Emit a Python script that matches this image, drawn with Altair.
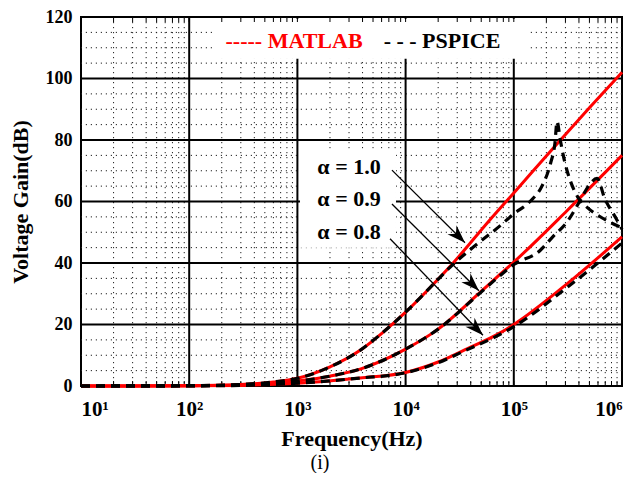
import altair as alt
import pandas as pd

# ---------------- data ----------------
# MATLAB (red solid) curves: frequency (Hz) and voltage gain (dB)
matlab_a10_f = [10, 100, 300, 600, 1000, 2000, 3800, 6200, 10000, 15800, 27500, 60000, 100000, 240000, 500000, 1000000]
matlab_a10_g = [0, 0.1, 0.5, 1.3, 2.5, 6.2, 11.6, 17.5, 24, 31, 40, 54, 62.8, 78, 90.5, 102]
matlab_a09_f = [10, 100, 300, 600, 1000, 2000, 3800, 10000, 20000, 49000, 74000, 100000, 310000, 1000000]
matlab_a09_g = [0, 0.1, 0.3, 0.9, 1.6, 3.2, 5.5, 12, 18.5, 30.5, 36.2, 40.3, 57, 75]
matlab_a08_f = [10, 100, 300, 1000, 3800, 10000, 20000, 35500, 74000, 100000, 310000, 1000000]
matlab_a08_g = [0, 0.05, 0.2, 0.9, 2.6, 4.4, 7.8, 11.8, 17.2, 20, 33.2, 48.5]

# PSPICE (black dashed) curves
pspice_a10_f = [10, 100, 300, 600, 1000, 2000, 3800, 6200, 10000, 15800, 25700, 40000, 74000, 100000,
                141000, 182000, 219000, 240000, 251000, 269000, 295000, 331000, 389000, 479000, 600000, 800000, 1000000]
pspice_a10_g = [0, 0.1, 0.5, 1.3, 2.5, 6.2, 11.6, 17.5, 24, 31, 38.6, 44.5, 52, 56,
                60, 65, 72.5, 79, 86, 80, 73, 67, 61.5, 58, 55.5, 53, 51.5]
pspice_a09_f = [10, 100, 300, 600, 1000, 2000, 3800, 10000, 20000, 49000, 74000, 100000,
                174000, 229000, 316000, 398000, 490000, 589000, 692000, 871000, 1000000]
pspice_a09_g = [0, 0.1, 0.3, 0.9, 1.6, 3.2, 5.5, 12, 18.5, 30.3, 35.8, 39.5,
                44, 48.5, 53.7, 59.5, 65, 67.5, 61, 54.8, 51]
pspice_a08_f = [10, 100, 300, 1000, 3800, 10000, 20000, 35500, 74000, 100000, 310000, 1000000]
pspice_a08_g = [0, 0.05, 0.2, 0.9, 2.6, 4.3, 7.6, 11.5, 16.7, 19.3, 32, 46.5]

# grid / tick values
decades = [10, 100, 1000, 10000, 100000, 1000000]
major_x = [100, 1000, 10000, 100000]
minor_x = [k * 10 ** d for d in range(1, 6) for k in range(2, 10)]
y_ticks = [0, 20, 40, 60, 80, 100, 120]
major_y = [20, 40, 60, 80, 100]
minor_y = [5, 10, 15, 25, 30, 35, 45, 50, 55, 65, 70, 75, 85, 90, 95, 105, 110, 115]

# annotations (data coordinates)
alpha_labels = ["α = 1.0", "α = 0.9", "α = 0.8"]
alpha_label_f = [3000, 3000, 3000]
alpha_label_g = [71.2, 60.8, 50.1]
arrow_f0 = [7480, 7480, 7180]
arrow_g0 = [70.2, 59.2, 47.9]
arrow_f1 = [35400, 47600, 51900]
arrow_g1 = [46.6, 31.0, 16.5]

legend_texts = ["----- MATLAB", "- - - PSPICE"]
legend_colors = ["#ff0000", "#000000"]
legend_f = [931, 21700]
legend_g = [112.2, 112.2]

box_f0 = [163, 1057]
box_f1 = [141000, 8150]
box_g0 = [106.4, 45.0]
box_g1 = [119.4, 76.3]

# ---------------- build chart ----------------
W, H = 541, 369
FONT = "Liberation Serif"
xs = alt.Scale(type="log", domain=[10, 1000000], nice=False)
ys = alt.Scale(domain=[0, 120], nice=False)

AX = alt.Axis(
    values=decades,
    labelExpr="'10' + ['⁰','¹','²','³','⁴','⁵','⁶'][round(log(datum.value)/LN10)]",
    title="Frequency(Hz)", orient="bottom",
    labelFontSize=21, labelPadding=12, titleFontSize=22, titlePadding=9,
)
AY = alt.Axis(
    values=y_ticks, title="Voltage Gain(dB)", orient="left",
    labelFontSize=18, labelPadding=9, titleFontSize=22, titlePadding=13,
)


def X(field):
    return alt.X(field, type="quantitative", scale=xs, axis=AX)


def Y(field):
    return alt.Y(field, type="quantitative", scale=ys, axis=AY)


def curves(pairs):
    rows = []
    for name, fs, gs in pairs:
        for f, g in zip(fs, gs):
            rows.append({"s": name, "f": f, "g": g})
    return pd.DataFrame(rows)


matlab_df = curves([("a10", matlab_a10_f, matlab_a10_g),
                    ("a09", matlab_a09_f, matlab_a09_g),
                    ("a08", matlab_a08_f, matlab_a08_g)])
pspice_df = curves([("a10", pspice_a10_f, pspice_a10_g),
                    ("a09", pspice_a09_f, pspice_a09_g),
                    ("a08", pspice_a08_f, pspice_a08_g)])

minor_v = alt.Chart(pd.DataFrame({"f": minor_x})).mark_rule(
    color="#222", strokeWidth=1, strokeDash=[1.2, 3.8]
).encode(x=X("f"))

minor_h = alt.Chart(pd.DataFrame({"g": minor_y})).mark_rule(
    color="#222", strokeWidth=1, strokeDash=[1.2, 3.8]
).encode(y=Y("g"))

major_v = alt.Chart(pd.DataFrame({"f": major_x})).mark_rule(
    color="black", strokeWidth=2
).encode(x=X("f"))

major_h = alt.Chart(pd.DataFrame({"g": major_y})).mark_rule(
    color="black", strokeWidth=2
).encode(y=Y("g"))

boxes = alt.Chart(pd.DataFrame({"f0": box_f0, "f1": box_f1, "g0": box_g0, "g1": box_g1})).mark_rect(
    color="white"
).encode(x=X("f0"), x2="f1:Q", y=Y("g0"), y2="g1:Q")

tick_df = pd.DataFrame({"f": minor_x + major_x})
ticks_bottom = alt.Chart(tick_df).mark_rule(color="black", strokeWidth=1).encode(
    x=X("f"), y=alt.value(H), y2=alt.value(H - 5))
ticks_top = alt.Chart(tick_df).mark_rule(color="black", strokeWidth=1).encode(
    x=X("f"), y=alt.value(0), y2=alt.value(5))

red_lines = alt.Chart(matlab_df).mark_line(
    color="#ff0000", strokeWidth=3, interpolate="monotone"
).encode(x=X("f"), y=Y("g"), detail="s:N")

black_lines = alt.Chart(pspice_df).mark_line(
    color="black", strokeWidth=3.2, strokeDash=[9, 6], interpolate="monotone"
).encode(x=X("f"), y=Y("g"), detail="s:N")

arrow_df = pd.DataFrame({"f0": arrow_f0, "g0": arrow_g0, "f1": arrow_f1, "g1": arrow_g1})
arrows = alt.Chart(arrow_df).mark_rule(color="black", strokeWidth=1.3).encode(
    x=X("f0"), x2="f1:Q", y=Y("g0"), y2="g1:Q")
heads = alt.Chart(arrow_df).mark_point(
    shape="M0,0 L0.8,2.3 L0,1.6 L-0.8,2.3 Z", filled=True, color="black",
    opacity=1, size=256, angle=135,
).encode(x=X("f1"), y=Y("g1"))

alpha_text = alt.Chart(pd.DataFrame({"t": alpha_labels, "f": alpha_label_f, "g": alpha_label_g})).mark_text(
    font=FONT, fontSize=22, fontWeight="bold", color="black", align="center", baseline="middle"
).encode(x=X("f"), y=Y("g"), text="t:N")

legend = alt.Chart(pd.DataFrame({"t": legend_texts, "f": legend_f, "g": legend_g, "c": legend_colors})).mark_text(
    font=FONT, fontSize=22, fontWeight="bold", align="center", baseline="middle"
).encode(x=X("f"), y=Y("g"), text="t:N", color=alt.Color("c:N", scale=None))

caption = alt.Chart(pd.DataFrame({"t": ["(i)"]})).mark_text(
    font=FONT, fontSize=20, color="black", align="center", baseline="alphabetic"
).encode(x=alt.value(239), y=alt.value(H + 83), text="t:N")

chart = alt.layer(
    minor_v, minor_h, major_v, major_h, boxes, ticks_bottom, ticks_top,
    red_lines, black_lines, arrows, heads, alpha_text, legend, caption
).properties(
    width=W, height=H,
    padding={"left": 73, "top": 9, "right": 8, "bottom": 87},
    autosize=alt.AutoSizeParams(type="none"),
    background="white",
).configure_view(
    stroke="black", strokeWidth=2
).configure_axis(
    domain=False, ticks=False, grid=False, tickSize=0,
    labelFont=FONT, titleFont=FONT, labelFontWeight="bold", titleFontWeight="bold",
    labelColor="black", titleColor="black",
)

chart.save("out.html", embed_options={"renderer": "svg", "actions": False})
